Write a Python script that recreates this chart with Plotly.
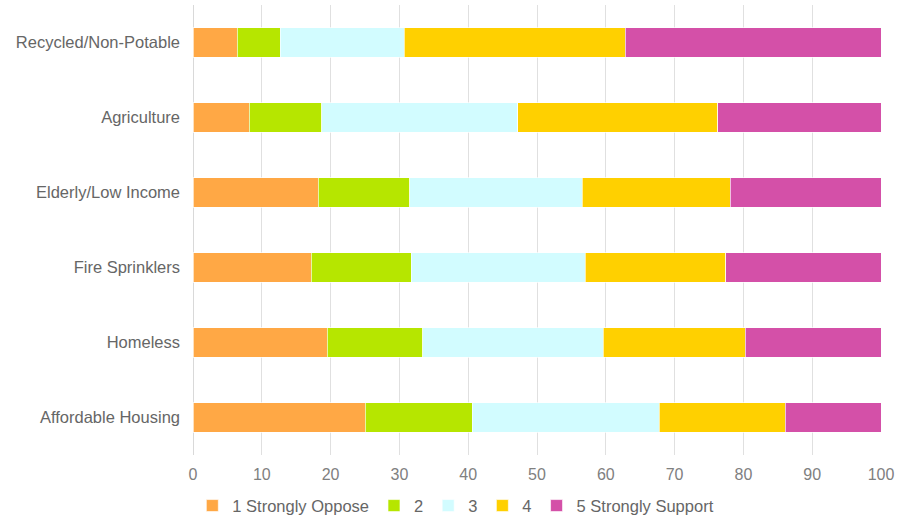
import plotly.graph_objects as go

categories = ["Recycled/Non-Potable", "Agriculture", "Elderly/Low Income",
              "Fire Sprinklers", "Homeless", "Affordable Housing"]
series_names = ["1 Strongly Oppose", "2", "3", "4", "5 Strongly Support"]
s1 = [6.4, 8.2, 18.2, 17.2, 19.5, 25.0]
s2 = [6.3, 10.5, 13.3, 14.5, 13.9, 15.6]
s3 = [18.0, 28.5, 25.1, 25.3, 26.2, 27.2]
s4 = [32.1, 29.1, 21.5, 20.4, 20.7, 18.3]
s5 = [37.2, 23.7, 21.9, 22.6, 19.7, 13.9]
colors = ["#FFA845", "#B6E600", "#D2FCFF", "#FFD000", "#D450A8"]

fig = go.Figure()
for name, vals, col in zip(series_names, [s1, s2, s3, s4, s5], colors):
    fig.add_trace(go.Bar(
        y=categories, x=vals, name=name, orientation="h",
        marker=dict(color=col, line=dict(color="rgba(255,255,255,0.8)", width=0.8)),
    ))

fig.update_layout(
    barmode="stack",
    bargap=0.61,
    width=900, height=521,
    margin=dict(l=193, r=19, t=5, b=66, autoexpand=False),
    plot_bgcolor="white", paper_bgcolor="white",
    font=dict(family="Liberation Sans, Arial, sans-serif", size=16.5, color="#7f7f7f"),
    legend=dict(orientation="h", x=0.382, xanchor="center", y=-0.113, yanchor="middle",
                font=dict(size=16.5, color="#666666"), traceorder="normal",
                itemwidth=30, tracegroupgap=0),
    showlegend=True,
)
fig.update_xaxes(range=[0, 100], dtick=10, tick0=0, showgrid=True, gridcolor="#E0E0E0",
                 gridwidth=1, zeroline=True, zerolinecolor="#D9D9D9", zerolinewidth=1,
                 tickfont=dict(size=16, color="#808080"), ticks="", showline=False,
                 ticklabelstandoff=8)
fig.update_yaxes(autorange="reversed", showgrid=False, ticks="",
                 tickfont=dict(size=16.5, color="#666666"), ticklabelstandoff=12)

fig.write_html("out.html")
